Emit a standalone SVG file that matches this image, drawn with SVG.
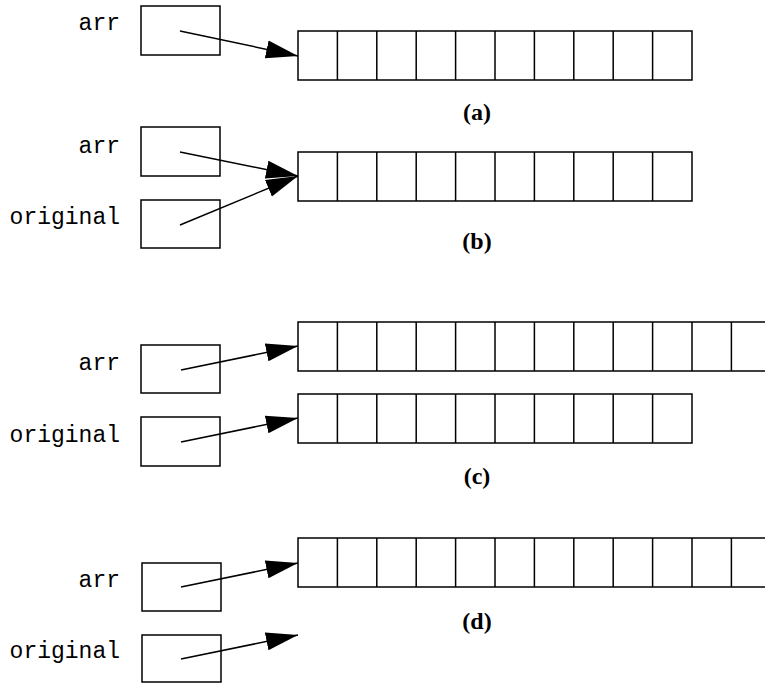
<svg xmlns="http://www.w3.org/2000/svg" width="765" height="683" viewBox="0 0 765 683">
<defs>
<style>
.box{fill:#fff;stroke:#000;stroke-width:1.5}
.cell{fill:none;stroke:#000;stroke-width:1.5}
.ptr{stroke:#000;stroke-width:1.5;fill:none;marker-end:url(#ah)}
.lbl{font-family:"Liberation Mono","Courier New",monospace;font-size:23px;fill:#000;text-anchor:end}
.cap{font-family:"Liberation Serif","Times New Roman",serif;font-size:24px;font-weight:bold;fill:#000;text-anchor:middle}
</style>
<marker id="ah" markerUnits="userSpaceOnUse" markerWidth="33" markerHeight="20" refX="32" refY="10" orient="auto">
<polygon points="0,1 32,10 0,19" fill="#000"/>
</marker>
<g id="arr10">
<rect x="0" y="0" width="394" height="49" class="cell"/>
<path class="cell" d="M39.4,0V49M78.8,0V49M118.2,0V49M157.6,0V49M197,0V49M236.4,0V49M275.8,0V49M315.2,0V49M354.6,0V49"/>
</g>
<g id="arrlong">
<path class="cell" d="M480,0H0V49H480M0,0V49M39.4,0V49M78.8,0V49M118.2,0V49M157.6,0V49M197,0V49M236.4,0V49M275.8,0V49M315.2,0V49M354.6,0V49M394,0V49M433.4,0V49"/>
</g>
</defs>
<rect width="765" height="683" fill="#fff"/>

<g id="part-a">
<g id="a-arr"><text class="lbl" x="120" y="30">arr</text><rect class="box" x="141" y="6" width="79" height="49"/></g>
<g id="a-array"><use href="#arr10" x="298" y="31"/></g>
<text class="cap" x="477" y="120">(a)</text>
</g>

<g id="part-b">
<g id="b-arr"><text class="lbl" x="120" y="153">arr</text><rect class="box" x="141" y="127" width="79" height="49"/></g>
<g id="b-original"><text class="lbl" x="120" y="224">original</text><rect class="box" x="141" y="200" width="79" height="48"/></g>
<g id="b-array"><use href="#arr10" x="298" y="152"/></g>
<text class="cap" x="477" y="249">(b)</text>
</g>

<g id="part-c">
<g id="c-arr"><text class="lbl" x="120" y="370">arr</text><rect class="box" x="141" y="345" width="79" height="48"/></g>
<g id="c-original"><text class="lbl" x="120" y="442">original</text><rect class="box" x="141" y="417" width="79" height="49"/></g>
<g id="c-array1"><use href="#arrlong" x="298" y="322"/></g>
<g id="c-array2"><use href="#arr10" x="298" y="394"/></g>
<text class="cap" x="477" y="484">(c)</text>
</g>

<g id="part-d">
<g id="d-arr"><text class="lbl" x="120" y="587">arr</text><rect class="box" x="142" y="563" width="79" height="48"/></g>
<g id="d-original"><text class="lbl" x="120" y="658">original</text><rect class="box" x="142" y="635" width="79" height="47"/></g>
<g id="d-array"><use href="#arrlong" x="298" y="538"/></g>
<text class="cap" x="477" y="629">(d)</text>
</g>

<g id="connectors">
<line class="ptr" x1="180" y1="31" x2="298" y2="56"/>
<line class="ptr" x1="180" y1="152" x2="298" y2="176"/>
<line class="ptr" x1="180" y1="225" x2="298" y2="176"/>
<line class="ptr" x1="181" y1="370" x2="298" y2="346"/>
<line class="ptr" x1="181" y1="442" x2="298" y2="418"/>
<line class="ptr" x1="181" y1="587" x2="298" y2="563"/>
<line class="ptr" x1="181" y1="659" x2="298" y2="635"/>
</g>
</svg>
